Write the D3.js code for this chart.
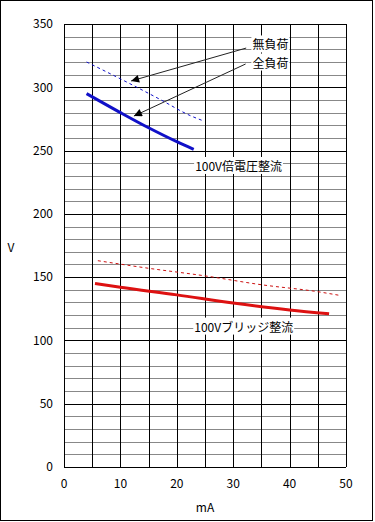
<!DOCTYPE html>
<html>
<head>
<meta charset="utf-8">
<script src="https://cdn.jsdelivr.net/npm/d3@7"></script>
<style>
  body { margin: 0; background: #fff; }
  text { font-family: "Liberation Sans Narrow", "Noto Sans CJK JP", sans-serif; font-size: 12px; fill: #000; }
</style>
</head>
<body>
<div id="chart"></div>
<script>
// data: load current (mA) vs output voltage (V)
var noLoadDoublerMA  = [4, 11, 17, 22.4, 24.4],
    noLoadDoublerV   = [320, 304.4, 290.5, 277.6, 274];
var fullLoadDoublerMA = [4, 10, 15, 20, 23],
    fullLoadDoublerV  = [295, 280, 268, 257, 251];
var noLoadBridgeMA   = [6, 15, 25, 35, 45, 49],
    noLoadBridgeV    = [163, 157, 151, 144, 138.5, 135.5];
var fullLoadBridgeMA = [5.5, 10, 20, 30, 40, 47],
    fullLoadBridgeV  = [145, 142, 136, 129.5, 124, 121];

var xTicks = [0, 10, 20, 30, 40, 50];
var yTicks = [0, 50, 100, 150, 200, 250, 300, 350];

// labels: text, x (mA), y (V)
var seriesLabels = [
  {text: "100V倍電圧整流", x: 23.25, y: 237.3},
  {text: "100Vブリッジ整流", x: 23.1, y: 110.4}
];
// arrow notes: text position and arrow tip in data units
var notes = [
  {text: "無負荷", x: 33.4, y: 333.3, fromX: 32.3, fromY: 331, toX: 11.9, toY: 305},
  {text: "全負荷", x: 33.4, y: 319, fromX: 32.2, fromY: 318.4, toX: 12.4, toY: 277.3}
];

var width = 375, height = 522;

var svg = d3.select("#chart").append("svg")
    .attr("width", width)
    .attr("height", height);

// outer frame
svg.append("rect")
    .attr("x", 0.5).attr("y", 0.5)
    .attr("width", 372).attr("height", 520)
    .attr("fill", "none").attr("stroke", "#000");

var x = d3.scaleLinear().domain([0, 50]).range([64, 346]);
var y = d3.scaleLinear().domain([0, 350]).range([467, 24]);

// grid: minor horizontal every 10 V (gray), major every 50 V and every 5 mA (black)
var grid = svg.append("g").attr("shape-rendering", "crispEdges");
grid.selectAll(".minor")
    .data(d3.range(0, 351, 10).filter(function(v) { return v % 50 !== 0; }))
  .enter().append("line")
    .attr("x1", x(0)).attr("x2", x(50))
    .attr("y1", function(d) { return Math.round(y(d)) + 0.5; })
    .attr("y2", function(d) { return Math.round(y(d)) + 0.5; })
    .attr("stroke", "#888");
grid.selectAll(".majorH")
    .data(yTicks)
  .enter().append("line")
    .attr("x1", x(0)).attr("x2", x(50))
    .attr("y1", function(d) { return Math.round(y(d)) + 0.5; })
    .attr("y2", function(d) { return Math.round(y(d)) + 0.5; })
    .attr("stroke", "#000");
grid.selectAll(".majorV")
    .data(d3.range(0, 51, 5))
  .enter().append("line")
    .attr("x1", function(d) { return Math.round(x(d)) + 0.5; })
    .attr("x2", function(d) { return Math.round(x(d)) + 0.5; })
    .attr("y1", y(350)).attr("y2", y(0))
    .attr("stroke", "#000");

// tick labels
svg.selectAll(".ylab")
    .data(yTicks)
  .enter().append("text")
    .attr("x", 53)
    .attr("y", function(d) { return y(d); })
    .attr("dy", "0.36em")
    .attr("text-anchor", "end")
    .text(function(d) { return d; });
svg.selectAll(".xlab")
    .data(xTicks)
  .enter().append("text")
    .attr("x", function(d) { return x(d); })
    .attr("y", 484)
    .attr("dy", "0.36em")
    .attr("text-anchor", "middle")
    .text(function(d) { return d; });

svg.append("text").attr("x", 205).attr("y", 508).attr("dy", "0.36em")
    .attr("text-anchor", "middle").text("mA");
svg.append("text").attr("x", 11).attr("y", 248).attr("dy", "0.36em")
    .attr("text-anchor", "middle").text("V");

// curves
var line = d3.line()
    .x(function(d) { return x(d[0]); })
    .y(function(d) { return y(d[1]); })
    .curve(d3.curveMonotoneX);

function pts(xs, ys) { return xs.map(function(v, i) { return [v, ys[i]]; }); }

var series = [
  {data: pts(noLoadDoublerMA, noLoadDoublerV), color: "#1010c8", w: 1, dash: "3,3"},
  {data: pts(fullLoadDoublerMA, fullLoadDoublerV), color: "#1010c8", w: 3, dash: null},
  {data: pts(noLoadBridgeMA, noLoadBridgeV), color: "#cc1111", w: 1, dash: "3,3"},
  {data: pts(fullLoadBridgeMA, fullLoadBridgeV), color: "#dd1111", w: 3, dash: null}
];

svg.append("g").selectAll("path")
    .data(series)
  .enter().append("path")
    .attr("d", function(d) { return line(d.data); })
    .attr("fill", "none")
    .attr("stroke", function(d) { return d.color; })
    .attr("stroke-width", function(d) { return d.w; })
    .attr("stroke-dasharray", function(d) { return d.dash; });

// arrowhead
svg.append("defs").append("marker")
    .attr("id", "arrow")
    .attr("viewBox", "0 0 10 10")
    .attr("refX", 10).attr("refY", 5)
    .attr("markerWidth", 12).attr("markerHeight", 8)
    .attr("markerUnits", "userSpaceOnUse")
    .attr("orient", "auto")
  .append("path")
    .attr("d", "M0,0L10,5L0,10Z")
    .attr("fill", "#000");

// labels with white boxes
function boxedLabel(d) {
  var g = svg.append("g");
  var t = g.append("text")
      .attr("x", x(d.x))
      .attr("y", y(d.y))
      .attr("dy", "0.36em")
      .text(d.text);
  var b = t.node().getBBox();
  g.insert("rect", "text")
      .attr("x", b.x - 1).attr("y", b.y)
      .attr("width", b.width + 2).attr("height", b.height)
      .attr("fill", "#fff");
}

seriesLabels.forEach(boxedLabel);
notes.forEach(boxedLabel);

svg.append("g").selectAll("line")
    .data(notes)
  .enter().append("line")
    .attr("x1", function(d) { return x(d.fromX); })
    .attr("y1", function(d) { return y(d.fromY); })
    .attr("x2", function(d) { return x(d.toX); })
    .attr("y2", function(d) { return y(d.toY); })
    .attr("stroke", "#222")
    .attr("stroke-width", 1)
    .attr("marker-end", "url(#arrow)");
</script>
</body>
</html>
